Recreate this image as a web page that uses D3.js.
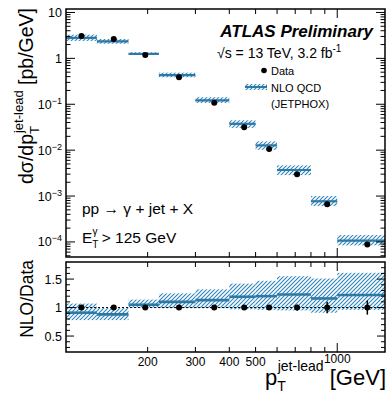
<!DOCTYPE html>
<html><head><meta charset="utf-8">
<script src="https://cdn.jsdelivr.net/npm/d3@7"></script>
<style>
html,body{margin:0;padding:0;background:#fff;}
text{font-family:"Liberation Sans",Arial,Helvetica,sans-serif;fill:#000;}
</style></head>
<body><svg id="c" width="390" height="394"></svg>
<script>
// ---- data ----
const xEdges   = [100,130,170,220,300,400,500,600,800,1000,1500];
const dataPt   = [114,150,196,261,352,454,561,711,918,1291];
const dataXsec = [3.07,2.65,1.19,0.39,0.108,0.0315,0.0106,0.00298,0.00066,0.000088];
const nloXsec  = [2.8,2.35,1.25,0.43,0.122,0.0375,0.0127,0.0037,0.00077,0.000107];
const ratio    = [0.91,0.88,1.05,1.10,1.13,1.19,1.20,1.23,1.16,1.22];
const ratioLo  = [0.78,0.78,1.00,0.99,0.99,0.97,0.96,0.95,0.91,0.96];
const ratioHi  = [1.07,0.99,1.14,1.25,1.32,1.42,1.47,1.55,1.51,1.61];
const dataRelErr = [0.02,0.02,0.02,0.02,0.02,0.03,0.03,0.05,0.10,0.125];
const xTickLabels = [200,300,400,500,1000];
const yTickExps = [1,0,-1,-2,-3,-4];
const rTicks = [0.5,1,1.5];

const BLUE="#2d78a5", HATCH="#2f87bb";
const svg=d3.select("#c");
const L=66,R=385,T1=9,B1=257,T2=262,B2=352;

const x=d3.scaleLog().domain([100,1500]).range([L,R]);
const y=d3.scaleLog().domain([4.7e-5,11.9]).range([B1,T1]);
const yr=d3.scaleLinear().domain([0.22,1.8]).range([B2,T2]);

const defs=svg.append("defs");
const pat=defs.append("pattern").attr("id","hatch").attr("patternUnits","userSpaceOnUse")
  .attr("width",4).attr("height",4);
pat.append("path").attr("d","M-1,1 L1,-1 M0,4 L4,0 M3,5 L5,3").attr("stroke",HATCH).attr("stroke-width",1.15);
defs.append("clipPath").attr("id","cp1").append("rect").attr("x",L).attr("y",T1).attr("width",R-L).attr("height",B1-T1);
defs.append("clipPath").attr("id","cp2").append("rect").attr("x",L).attr("y",T2).attr("width",R-L).attr("height",B2-T2);

const bins=d3.range(10);
// ---- top panel ----
const g1=svg.append("g").attr("clip-path","url(#cp1)");
g1.selectAll("rect.band").data(bins).join("rect")
  .attr("x",i=>x(xEdges[i])).attr("width",i=>x(xEdges[i+1])-x(xEdges[i]))
  .attr("y",i=>y(nloXsec[i]*ratioHi[i]/ratio[i]))
  .attr("height",i=>y(nloXsec[i]*ratioLo[i]/ratio[i])-y(nloXsec[i]*ratioHi[i]/ratio[i]))
  .attr("fill","url(#hatch)");
g1.selectAll("line.nlo").data(bins).join("line")
  .attr("x1",i=>x(xEdges[i])).attr("x2",i=>x(xEdges[i+1]))
  .attr("y1",i=>y(nloXsec[i])).attr("y2",i=>y(nloXsec[i]))
  .attr("stroke",BLUE).attr("stroke-width",2.2);
g1.selectAll("circle").data(bins).join("circle")
  .attr("cx",i=>x(dataPt[i])).attr("cy",i=>y(dataXsec[i])).attr("r",3).attr("fill","#000");

// ---- ratio panel ----
const g2=svg.append("g").attr("clip-path","url(#cp2)");
g2.selectAll("rect.band").data(bins).join("rect")
  .attr("x",i=>x(xEdges[i])).attr("width",i=>x(xEdges[i+1])-x(xEdges[i]))
  .attr("y",i=>yr(ratioHi[i])).attr("height",i=>yr(ratioLo[i])-yr(ratioHi[i]))
  .attr("fill","url(#hatch)");
g2.append("line").attr("x1",L).attr("x2",R).attr("y1",yr(1)).attr("y2",yr(1))
  .attr("stroke","#000").attr("stroke-width",1).attr("stroke-dasharray","2,2");
g2.selectAll("line.nlo").data(bins).join("line")
  .attr("x1",i=>x(xEdges[i])).attr("x2",i=>x(xEdges[i+1]))
  .attr("y1",i=>yr(ratio[i])).attr("y2",i=>yr(ratio[i]))
  .attr("stroke",BLUE).attr("stroke-width",2.6);
g2.selectAll("line.err").data(bins).join("line")
  .attr("x1",i=>x(dataPt[i])).attr("x2",i=>x(dataPt[i]))
  .attr("y1",i=>yr(1+dataRelErr[i])).attr("y2",i=>yr(1-dataRelErr[i]))
  .attr("stroke","#000").attr("stroke-width",1.5);
g2.selectAll("circle").data(bins).join("circle")
  .attr("cx",i=>x(dataPt[i])).attr("cy",yr(1)).attr("r",3).attr("fill","#000");

// ---- axes / ticks ----
const xMinor=[200,300,400,500,600,700,800,900];
function xTicks(yPos,dir,lenMinor,lenMajor){
  const a=svg.append("g");
  xMinor.forEach(v=>a.append("line").attr("x1",x(v)).attr("x2",x(v)).attr("y1",yPos).attr("y2",yPos+dir*lenMinor).attr("stroke","#000").attr("stroke-width",1));
  a.append("line").attr("x1",x(1000)).attr("x2",x(1000)).attr("y1",yPos).attr("y2",yPos+dir*lenMajor).attr("stroke","#000").attr("stroke-width",1);
}
xTicks(B1,-1,5,9); xTicks(T1,1,5,9); xTicks(B2,-1,5,9); xTicks(T2,1,5,9);

// top y log ticks
const yMaj=yTickExps.map(e=>Math.pow(10,e));
const yMin=[];
for(let e=-5;e<=1;e++) for(let k=2;k<=9;k++){const v=k*Math.pow(10,e); if(v>=4.7e-5&&v<=11.9) yMin.push(v);}
[[L,1],[R,-1]].forEach(([xp,dir])=>{
  yMaj.forEach(v=>svg.append("line").attr("x1",xp).attr("x2",xp+dir*9).attr("y1",y(v)).attr("y2",y(v)).attr("stroke","#000"));
  yMin.forEach(v=>svg.append("line").attr("x1",xp).attr("x2",xp+dir*4.5).attr("y1",y(v)).attr("y2",y(v)).attr("stroke","#000"));
});
// ratio y ticks
const rMin=d3.range(3,18).map(k=>k/10);
[[L,1],[R,-1]].forEach(([xp,dir])=>{
  rMin.forEach(v=>{const maj=rTicks.includes(v);
    svg.append("line").attr("x1",xp).attr("x2",xp+dir*(maj?8:4)).attr("y1",yr(v)).attr("y2",yr(v)).attr("stroke","#000");});
});
// frames
svg.append("rect").attr("x",L).attr("y",T1).attr("width",R-L).attr("height",B1-T1).attr("fill","none").attr("stroke","#000").attr("stroke-width",1.5);
svg.append("rect").attr("x",L).attr("y",T2).attr("width",R-L).attr("height",B2-T2).attr("fill","none").attr("stroke","#000").attr("stroke-width",1.5);

// tick labels top y
yTickExps.forEach(e=>{
  const t=svg.append("text").attr("x",62).attr("y",y(Math.pow(10,e))+4.5).attr("text-anchor","end").style("font-size","12.5px");
  if(e===1) t.text("10");
  else if(e===0) t.text("1");
  else { t.append("tspan").text("10"); t.append("tspan").attr("dy",-5).style("font-size","9px").text("\u2212"+(-e)); }
});
rTicks.forEach(v=>svg.append("text").attr("x",62).attr("y",yr(v)+4.5).attr("text-anchor","end").style("font-size","12.5px").text(v));
xTickLabels.forEach(v=>svg.append("text").attr("x",x(v)).attr("y",v===1000?363:366).attr("text-anchor","middle").style("font-size","12px").text(v));

// axis titles
const yt=svg.append("text").attr("transform","translate(33,8) rotate(-90)").attr("text-anchor","end").style("font-size","19.5px");
yt.append("tspan").text("d\u03c3/dp");
yt.append("tspan").attr("dy",6).style("font-size","13px").text("T");
yt.append("tspan").attr("dx",-7).attr("dy",-16).style("font-size","13px").text("jet-lead");
yt.append("tspan").attr("dy",10).text(" [pb/GeV]");
svg.append("text").attr("transform","translate(33,260) rotate(-90)").attr("text-anchor","end").style("font-size","17.5px").text("NLO/Data");
const xt=svg.append("text").attr("x",386).attr("y",385).attr("text-anchor","end").style("font-size","22px");
xt.append("tspan").text("p");
xt.append("tspan").attr("dy",6).style("font-size","14px").text("T");
xt.append("tspan").attr("dx",-8).attr("dy",-20).style("font-size","14px").text("jet-lead");
xt.append("tspan").attr("dy",14).text(" [GeV]");

// annotations
svg.append("text").attr("x",373).attr("y",37).attr("text-anchor","end").style("font-size","17px").style("font-weight","bold").style("font-style","italic").text("ATLAS Preliminary");
const en=svg.append("text").attr("x",217).attr("y",58).style("font-size","14px");
en.append("tspan").text("\u221as = 13 TeV, 3.2 fb");
en.append("tspan").attr("dy",-6).style("font-size","10px").text("-1");
// legend
svg.append("circle").attr("cx",264).attr("cy",70.5).attr("r",2.8).attr("fill","#000");
svg.append("text").attr("x",271).attr("y",75).style("font-size",11).text("Data");
svg.append("rect").attr("x",245).attr("y",84).attr("width",22).attr("height",6).attr("fill","url(#hatch)");
svg.append("line").attr("x1",245).attr("x2",267).attr("y1",87).attr("y2",87).attr("stroke",BLUE).attr("stroke-width",2);
svg.append("text").attr("x",271).attr("y",91.5).style("font-size",11).text("NLO QCD");
svg.append("text").attr("x",271).attr("y",108).style("font-size",11).text("(JETPHOX)");

svg.append("text").attr("x",82).attr("y",214).style("font-size","15.5px").text("pp \u2192 \u03b3 + jet + X");
const et=svg.append("text").attr("x",82).attr("y",243).style("font-size","15.5px");
et.append("tspan").text("E");
et.append("tspan").attr("dy",5).style("font-size","10px").text("T");
et.append("tspan").attr("dx",-6).attr("dy",-13).style("font-size","10px").text("\u03b3");
et.append("tspan").attr("dy",8).text(" > 125 GeV");
</script></body></html>
